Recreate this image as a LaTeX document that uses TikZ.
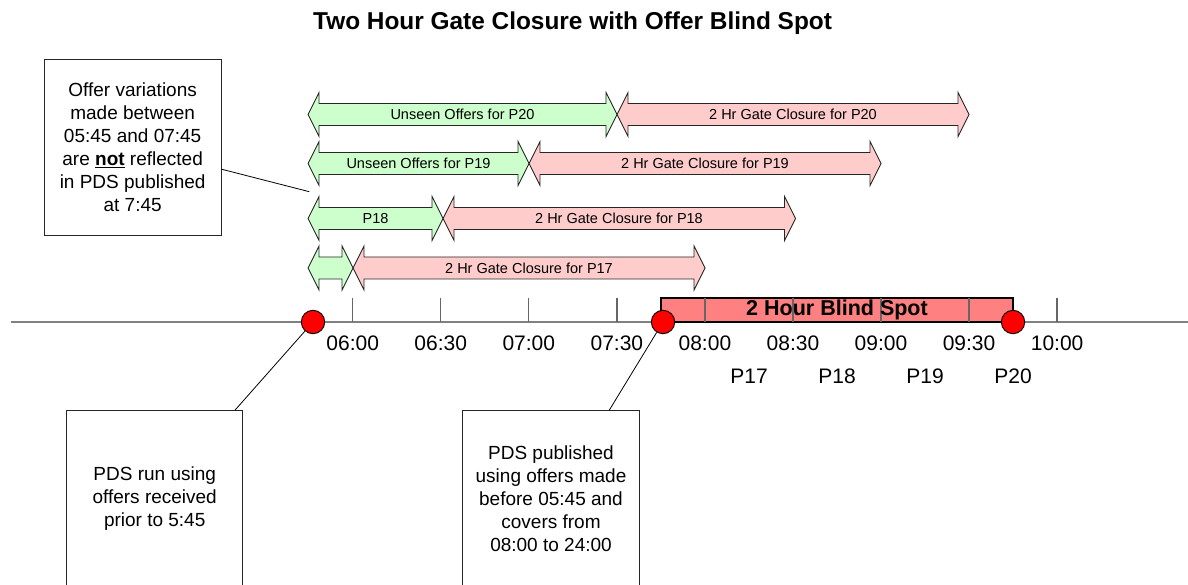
\documentclass[tikz,border=0pt]{standalone}
\usepackage{fontspec}
\setmainfont{Liberation Sans}
\definecolor{gfill}{HTML}{CCFFCC}
\definecolor{pfill}{HTML}{FFCCCC}
\definecolor{bfill}{HTML}{FF8080}
\newcommand\hbarrow[4]{%
  \draw[arrowshape, fill=#4] (#1,#3) -- ({#1+11},{#3-22}) -- ({#1+11},{#3-11}) -- ({#2-11},{#3-11}) -- ({#2-11},{#3-22}) -- (#2,#3) -- ({#2-11},{#3+22}) -- ({#2-11},{#3+11}) -- ({#1+11},{#3+11}) -- ({#1+11},{#3+22}) -- cycle;}
\begin{document}
\begin{tikzpicture}[x=1pt,y=-1pt,
  arrowshape/.style={draw=black!85, line width=0.9pt, line join=miter},
  arrowlabel/.style={font=\fontsize{14.5}{17}\selectfont, inner sep=0pt},
  timelabel/.style={font=\fontsize{21}{25}\selectfont, inner sep=0pt},
  tickline/.style={draw=black!60, line width=1.3pt},
  dot/.style={circle, fill=red, draw=black, line width=0.9pt, minimum size=23.4pt, inner sep=0pt},
  notebox/.style={draw=black!85, line width=1pt, align=center, font=\fontsize{19}{23}\selectfont, inner sep=0pt},
  leader/.style={draw=black, line width=0.8pt}]
\useasboundingbox (0,0) rectangle (1188,585);
\clip (0,0) rectangle (1188,585);

% title
\node[font=\bfseries\fontsize{24.4}{29}\selectfont, anchor=base west, inner sep=0pt] (title) at (313,29.3) {Two Hour Gate Closure with Offer Blind Spot};

% axis
\coordinate (axL) at (11,322);
\coordinate (axR) at (1188,322);
\draw[draw=black!50, line width=2pt] (axL) -- (axR);

% blind spot bar
\node[draw=black, line width=1.4pt, fill=bfill, minimum width=352pt, minimum height=24pt, inner sep=0pt] (blind) at (837,310) {};

% ticks and time labels
\foreach \i/\t in {0/06:00,1/06:30,2/07:00,3/07:30,4/08:00,5/08:30,6/09:00,7/09:30,8/10:00}{
  \pgfmathsetmacro\xx{352.7+88.05*\i}
  \draw[tickline] (\xx,297.5) -- (\xx,322);
  \node[timelabel] (t\i) at (\xx,343) {\t};
}
\node[font=\bfseries\fontsize{21.5}{25}\selectfont, inner sep=0pt] (blindtxt) at (837,310) {2 Hour Blind Spot};

% period labels
\node[timelabel] (p17) at (749,376) {P17};
\node[timelabel] (p18) at (837,376) {P18};
\node[timelabel] (p19) at (925,376) {P19};
\node[timelabel] (p20) at (1013,376) {P20};

% arrows row P20
\hbarrow{308}{617}{114.5}{gfill}
\hbarrow{617}{969}{114.5}{pfill}
\node[arrowlabel] (u20) at (462.5,114.5) {Unseen Offers for P20};
\node[arrowlabel] (g20) at (793,114.5) {2 Hr Gate Closure for P20};
% row P19
\hbarrow{308}{529}{163.5}{gfill}
\hbarrow{529}{881}{163.5}{pfill}
\node[arrowlabel] (u19) at (418.5,163.5) {Unseen Offers for P19};
\node[arrowlabel] (g19) at (705,163.5) {2 Hr Gate Closure for P19};
% row P18
\hbarrow{308}{443}{218.5}{gfill}
\hbarrow{443}{795.5}{218.5}{pfill}
\node[arrowlabel] (u18) at (375.5,218.5) {P18};
\node[arrowlabel] (g18) at (619,218.5) {2 Hr Gate Closure for P18};
% row P17
\hbarrow{308}{353}{268}{gfill}
\hbarrow{353}{705}{268}{pfill}
\node[arrowlabel] (g17) at (529,268) {2 Hr Gate Closure for P17};

% note boxes
\node[notebox, minimum width=176.7pt, minimum height=175.7pt] (tb) at (132.65,147.2) {Offer variations\\made between\\05:45 and 07:45\\are \underline{\textbf{not}} reflected\\in PDS published\\at 7:45};
\node[notebox, minimum width=176pt, minimum height=175.3pt] (bl) at (154.7,498.3) {PDS run using\\offers received\\prior to 5:45};
\node[notebox, minimum width=176.6pt, minimum height=175.3pt] (br) at (551,498.3) {PDS published\\using offers made\\before 05:45 and\\covers from\\08:00 to 24:00};

% event dots
\node[dot] (c1) at (313,322) {};
\node[dot] (c2) at (663,322) {};
\node[dot] (c3) at (1013,322) {};

% leaders
\coordinate (tbend) at (309.3,191.7);
\draw[leader] ([yshift=-22pt]tb.east) -- (tbend);
\draw[leader] ([xshift=80.3pt]bl.north) -- (c1);
\draw[leader] ([xshift=58.3pt]br.north) -- (c2);
\end{tikzpicture}
\end{document}
